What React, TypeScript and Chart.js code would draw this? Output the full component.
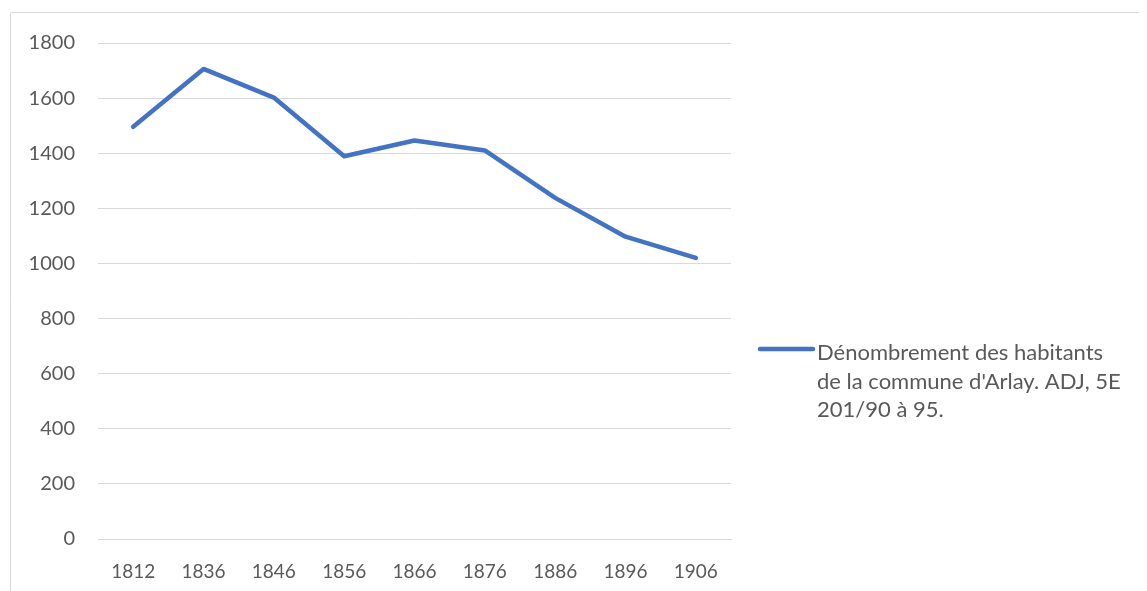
import React, { useEffect, useRef } from "react";
import { Chart, registerables } from "chart.js";

Chart.register(...registerables);

const years = ["1812", "1836", "1846", "1856", "1866", "1876", "1886", "1896", "1906"];
const population = [1496, 1706, 1602, 1389, 1446, 1410, 1238, 1097, 1020];
const legendLines = ["Dénombrement des habitants", "de la commune d'Arlay. ADJ, 5E", "201/90 à 95."];
const yTicks = [0, 200, 400, 600, 800, 1000, 1200, 1400, 1600, 1800];

const LINE_COLOR = "#4472C4";
const TEXT_COLOR = "#595959";
const GRID_COLOR = "#d9d9d9";
const FONT = "Lato, 'Open Sans', sans-serif";

const framePlugin = {
  id: "frame",
  beforeDraw(chart: any) {
    const ctx = chart.ctx;
    ctx.save();
    ctx.strokeStyle = GRID_COLOR;
    ctx.lineWidth = 1;
    ctx.beginPath();
    ctx.moveTo(2.5, chart.height + 5);
    ctx.lineTo(2.5, 4.5);
    ctx.lineTo(chart.width + 5, 4.5);
    ctx.stroke();
    ctx.restore();
  },
};

const legendPlugin = {
  id: "sideLegend",
  afterDraw(chart: any) {
    const ctx = chart.ctx;
    const ds = chart.data.datasets[0];
    const x0 = 750;
    const y0 = 345;
    ctx.save();
    ctx.strokeStyle = ds.borderColor;
    ctx.lineWidth = 4.5;
    ctx.lineCap = "round";
    ctx.beginPath();
    ctx.moveTo(x0 + 2, y0 - 4);
    ctx.lineTo(x0 + 55, y0 - 4);
    ctx.stroke();
    ctx.fillStyle = TEXT_COLOR;
    ctx.font = `22px ${FONT}`;
    ctx.textBaseline = "middle";
    ctx.textAlign = "left";
    legendLines.forEach((t, i) => {
      ctx.fillText(t, x0 + 59, y0 + i * 28.5);
    });
    ctx.restore();
  },
};

export default function App() {
  const ref = useRef<HTMLCanvasElement>(null);
  useEffect(() => {
    if (!ref.current) return;
    const chart = new Chart(ref.current, {
      type: "line",
      data: {
        labels: years,
        datasets: [
          {
            label: legendLines.join(" "),
            data: population,
            borderColor: LINE_COLOR,
            backgroundColor: LINE_COLOR,
            borderWidth: 4.5,
            pointRadius: 0,
            tension: 0,
            borderCapStyle: "round",
            borderJoinStyle: "round",
          },
        ],
      },
      options: {
        responsive: false,
        animation: false,
        layout: { padding: { top: 34, right: 416, left: 0, bottom: 0 } },
        plugins: { legend: { display: false }, tooltip: { enabled: false } },
        scales: {
          x: {
            offset: true,
            grid: { display: false, drawTicks: false },
            border: { display: true, color: GRID_COLOR, width: 1 },
            ticks: { color: TEXT_COLOR, font: { family: FONT, size: 19 }, padding: 21, maxRotation: 0 },
            afterFit(scale: any) {
              scale.height = 52;
            },
          },
          y: {
            min: 0,
            max: 1800,
            afterBuildTicks(scale: any) {
              scale.ticks = yTicks.map((v) => ({ value: v }));
            },
            grid: { color: GRID_COLOR, lineWidth: 1, drawTicks: false },
            border: { display: false },
            ticks: {
              color: TEXT_COLOR,
              font: { family: FONT, size: 20 },
              padding: 23,
              callback: (v: any) => String(v),
            },
            afterFit(scale: any) {
              scale.width = 90;
            },
          },
        },
      },
      plugins: [framePlugin, legendPlugin],
    });
    return () => chart.destroy();
  }, []);
  return <canvas ref={ref} width={1139} height={583} />;
}
